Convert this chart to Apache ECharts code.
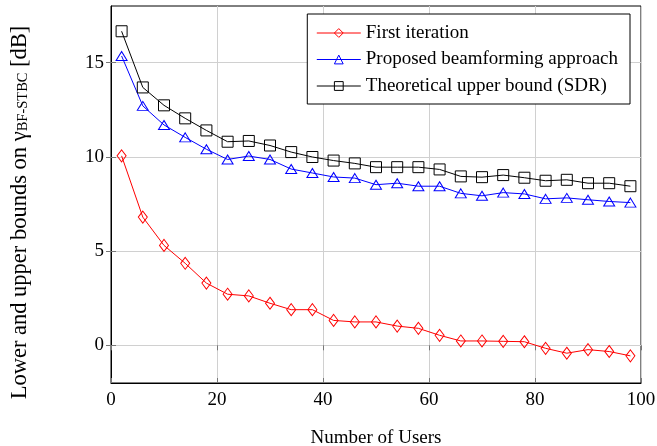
<!DOCTYPE html>
<html>
<head>
<meta charset="utf-8">
<script src="https://cdn.jsdelivr.net/npm/echarts@6/dist/echarts.min.js"></script>
<style>html,body{margin:0;padding:0;background:#fff;}#c{width:657px;height:446px;}</style>
</head>
<body>
<div id="c"></div>
<script>
const users = [2,6,10,14,18,22,26,30,34,38,42,46,50,54,58,62,66,70,74,78,82,86,90,94,98];
const firstIteration = [10.05,6.8,5.3,4.35,3.3,2.71,2.62,2.23,1.89,1.89,1.32,1.24,1.24,1.02,0.9,0.53,0.23,0.23,0.21,0.19,-0.16,-0.42,-0.23,-0.33,-0.56];
const proposed = [15.35,12.7,11.69,11.03,10.4,9.86,10.04,9.86,9.35,9.14,8.93,8.87,8.52,8.6,8.44,8.44,8.06,7.93,8.1,8.03,7.77,7.82,7.72,7.63,7.57];
const upperBound = [16.66,13.68,12.73,12.04,11.4,10.8,10.84,10.6,10.25,9.99,9.8,9.65,9.45,9.45,9.45,9.33,8.96,8.92,9.03,8.89,8.73,8.78,8.6,8.6,8.44];
const xTicks = [0,20,40,60,80,100];
const yTicks = [0,5,10,15];
const names = ['First iteration','Proposed beamforming approach','Theoretical upper bound (SDR)'];
const colors = ['#ff0000','#0000ff','#000000'];

const font = 'Liberation Serif';
const pair = arr => users.map((u,i)=>[u,arr[i]]);
function mk(name, arr, color, symbol, size){
  return {
    name, type:'line', data: pair(arr), symbol, symbolSize:size,
    lineStyle:{color, width:1}, itemStyle:{color:'rgba(255,255,255,0)', borderColor:color, borderWidth:1},
    emphasis:{disabled:true}, animation:false, z:3
  };
}
const chart = echarts.init(document.getElementById('c'));
chart.setOption({
  animation:false,
  backgroundColor:'#fff',
  textStyle:{fontFamily:font},
  grid:{left:111, right:16, top:6, bottom:63, show:true, borderColor:'#000', borderWidth:1, outerBoundsMode:'none', containLabel:false},
  legend:{
    data:names.map((n,i)=>({name:n, lineStyle:{color:colors[i], width:1}, itemStyle:{color:'rgba(255,255,255,0)', borderColor:colors[i], borderWidth:1}})),
    right:27, top:14, orient:'vertical', itemWidth:44, itemHeight:11, itemGap:6.5,
    backgroundColor:'#fff', borderColor:'#000', borderWidth:1, padding:[9,12,8,9],
    textStyle:{fontFamily:font, fontSize:19, color:'#000', lineHeight:20}
  },
  xAxis:[{
    type:'value', min:0, max:100, interval:20,
    name:'Number of Users', nameLocation:'middle', nameGap:46,
    nameTextStyle:{fontFamily:font, fontSize:19, color:'#000'},
    axisLine:{onZero:false, lineStyle:{color:'#000', width:1}},
    axisTick:{inside:true, length:5, lineStyle:{color:'#777'}},
    axisLabel:{fontFamily:font, fontSize:19, color:'#000', margin:8, customValues:xTicks},
    splitLine:{show:true, lineStyle:{color:'#d0d0d0', width:1}}
  },{
    type:'value', min:0, max:100, interval:20, position:'top',
    axisLine:{show:false}, axisTick:{inside:true, length:5, lineStyle:{color:'#777'}},
    axisLabel:{show:false}, splitLine:{show:false}
  }],
  yAxis:[{
    type:'value', min:-2, max:18,
    name:'{a|Lower and upper bounds on γ}{s|BF-STBC}{a| [dB]}',
    nameLocation:'middle', nameGap:78,
    nameTextStyle:{color:'#000', padding:[0,36,0,0], rich:{
      a:{fontFamily:font, fontSize:22.5, color:'#000', lineHeight:26},
      s:{fontFamily:font, fontSize:14.5, color:'#000', lineHeight:26, padding:[7,0,0,0]}
    }},
    axisLine:{onZero:false, lineStyle:{color:'#000', width:1}},
    axisTick:{inside:true, length:5, lineStyle:{color:'#777'}, customValues:yTicks},
    axisLabel:{fontFamily:font, fontSize:19, color:'#000', margin:7, customValues:yTicks},
    splitLine:{show:true, lineStyle:{color:'#d0d0d0', width:1}}
  },{
    type:'value', min:-2, max:18, position:'right',
    axisLine:{show:false}, axisTick:{inside:true, length:5, lineStyle:{color:'#777'}, customValues:yTicks},
    axisLabel:{show:false, customValues:yTicks}, splitLine:{show:false}
  }],
  series:[
    mk(names[0], firstIteration, colors[0], 'diamond', [9,12]),
    mk(names[1], proposed, colors[1], 'triangle', [11,9]),
    mk(names[2], upperBound, colors[2], 'rect', 11)
  ]
});
</script>
</body>
</html>
